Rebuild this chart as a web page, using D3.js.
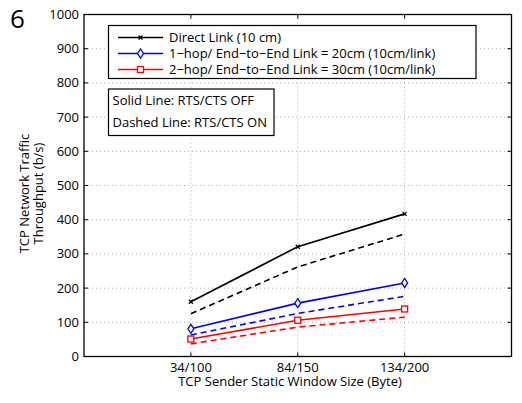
<!DOCTYPE html>
<html>
<head>
<meta charset="utf-8">
<script src="https://cdn.jsdelivr.net/npm/d3@7"></script>
<style>
  body { margin: 0; background: #fff; }
  text { font-family: "Open Sans", "DejaVu Sans", sans-serif; fill: #000; }
</style>
</head>
<body>
<div class="chart"></div>
<script>
const categories = ["34/100", "84/150", "134/200"];
const yTicks = [0, 100, 200, 300, 400, 500, 600, 700, 800, 900, 1000];

const directOff = [160, 321, 417];
const directOn  = [125, 262, 358];
const hop1Off   = [81, 156, 215];
const hop1On    = [63, 126, 176];
const hop2Off   = [51, 106, 139];
const hop2On    = [37, 86, 115];

const legendLabels = [
  "Direct Link (10 cm)",
  "1\u2212hop/ End\u2212to\u2212End Link = 20cm (10cm/link)",
  "2\u2212hop/ End\u2212to\u2212End Link = 30cm (10cm/link)"
];
const noteLabels = ["Solid Line: RTS/CTS OFF", "Dashed Line: RTS/CTS ON"];

const series = [
  { values: directOff, color: "#000", dashed: false, marker: "x" },
  { values: directOn,  color: "#000", dashed: true,  marker: null },
  { values: hop1Off,   color: "#0000ff", dashed: false, marker: "diamond" },
  { values: hop1On,    color: "#0000ff", dashed: true,  marker: null },
  { values: hop2Off,   color: "#ff0000", dashed: false, marker: "square" },
  { values: hop2On,    color: "#ff0000", dashed: true,  marker: null }
];

const W = 522, H = 403;
const pLeft = 84, pRight = 511.5, pTop = 14.5, pBottom = 356.5;

const svg = d3.select(".chart").append("svg")
  .attr("width", W).attr("height", H);

// index scale: ticks at 1,2,3 in a 0..4 domain
const x = d3.scaleLinear().domain([0, 4]).range([pLeft, pRight]);
const y = d3.scaleLinear().domain([0, 1000]).range([pBottom, pTop]);

// grid
svg.append("g").selectAll("line").data(yTicks.slice(1, -1)).enter()
  .append("line")
  .attr("x1", pLeft).attr("x2", pRight)
  .attr("y1", d => y(d)).attr("y2", d => y(d))
  .attr("stroke", "#999").attr("stroke-width", 0.8)
  .attr("stroke-dasharray", "1,3");
svg.append("g").selectAll("line").data(categories).enter()
  .append("line")
  .attr("x1", (d, i) => x(i + 1)).attr("x2", (d, i) => x(i + 1))
  .attr("y1", pTop).attr("y2", pBottom)
  .attr("stroke", "#999").attr("stroke-width", 0.8)
  .attr("stroke-dasharray", "1,3");

// inner ticks on all sides
const tk = 4;
const ticks = svg.append("g").attr("stroke", "#000").attr("stroke-width", 1);
yTicks.forEach(v => {
  ticks.append("line").attr("x1", pLeft).attr("x2", pLeft + tk).attr("y1", y(v)).attr("y2", y(v));
  ticks.append("line").attr("x1", pRight).attr("x2", pRight - tk).attr("y1", y(v)).attr("y2", y(v));
});
categories.forEach((c, i) => {
  ticks.append("line").attr("x1", x(i + 1)).attr("x2", x(i + 1)).attr("y1", pBottom).attr("y2", pBottom - tk);
  ticks.append("line").attr("x1", x(i + 1)).attr("x2", x(i + 1)).attr("y1", pTop).attr("y2", pTop + tk);
});

// tick labels
svg.append("g").selectAll("text").data(yTicks).enter()
  .append("text")
  .attr("x", pLeft - 5).attr("y", d => y(d))
  .attr("dy", "0.35em")
  .attr("text-anchor", "end")
  .style("font-size", "13px")
  .text(d => d);
svg.append("g").selectAll("text").data(categories).enter()
  .append("text")
  .attr("x", (d, i) => x(i + 1)).attr("y", pBottom + 15)
  .attr("text-anchor", "middle")
  .style("font-size", "13px")
  .text(d => d);

// axis titles
svg.append("text")
  .attr("x", 290).attr("y", 386)
  .attr("text-anchor", "middle")
  .style("font-size", "13px")
  .text("TCP Sender Static Window Size (Byte)");
const yl = svg.append("text")
  .attr("transform", `translate(29, ${(pTop + pBottom) / 2 + 8}) rotate(-90)`)
  .attr("text-anchor", "middle")
  .style("font-size", "13px");
yl.append("tspan").attr("x", 0).attr("dy", 0).text("TCP Network Traffic");
yl.append("tspan").attr("x", 0).attr("dy", 14).text("Throughput (b/s)");

svg.append("text")
  .attr("x", 10).attr("y", 28)
  .style("font-size", "26px")
  .text("6");

// lines
const line = d3.line().x((d, i) => x(i + 1)).y(d => y(d));
series.forEach(s => {
  svg.append("path")
    .datum(s.values)
    .attr("d", line)
    .attr("fill", "none")
    .attr("stroke", s.color)
    .attr("stroke-width", 1.6)
    .attr("stroke-dasharray", s.dashed ? "6,4" : null);
});

function drawMarker(g, type, cx, cy, color) {
  if (type === "x") {
    g.append("path")
      .attr("d", `M${cx - 2},${cy - 2}L${cx + 2},${cy + 2}M${cx - 2},${cy + 2}L${cx + 2},${cy - 2}`)
      .attr("stroke", color).attr("stroke-width", 1.3);
  } else if (type === "diamond") {
    g.append("path")
      .attr("d", `M${cx},${cy - 4.5}L${cx + 3},${cy}L${cx},${cy + 4.5}L${cx - 3},${cy}Z`)
      .attr("fill", "#fff").attr("stroke", color).attr("stroke-width", 1.3);
  } else if (type === "square") {
    g.append("rect")
      .attr("x", cx - 3).attr("y", cy - 3).attr("width", 6).attr("height", 6)
      .attr("fill", "#fff").attr("stroke", color).attr("stroke-width", 1.3);
  }
}

series.filter(s => s.marker).forEach(s => {
  const g = svg.append("g");
  s.values.forEach((v, i) => drawMarker(g, s.marker, x(i + 1), y(v), s.color));
});

// frame
svg.append("rect")
  .attr("x", pLeft).attr("y", pTop)
  .attr("width", pRight - pLeft).attr("height", pBottom - pTop)
  .attr("fill", "none").attr("stroke", "#000").attr("stroke-width", 1.3);

// legend
const lg = svg.append("g");
lg.append("rect")
  .attr("x", 108.5).attr("y", 25.5).attr("width", 367.5).attr("height", 53)
  .attr("fill", "#fff").attr("stroke", "#000").attr("stroke-width", 1.2);
const legendSeries = [series[0], series[2], series[4]];
legendLabels.forEach((lab, i) => {
  const ly = 37.5 + i * 16;
  lg.append("line")
    .attr("x1", 118).attr("x2", 163).attr("y1", ly).attr("y2", ly)
    .attr("stroke", legendSeries[i].color).attr("stroke-width", 1.6);
  drawMarker(lg, legendSeries[i].marker, 140.5, ly, legendSeries[i].color);
  lg.append("text")
    .attr("x", 169).attr("y", ly).attr("dy", "0.35em")
    .style("font-size", "13px")
    .text(lab);
});

const ng = svg.append("g");
ng.append("rect")
  .attr("x", 108.5).attr("y", 89).attr("width", 165.5).attr("height", 46.5)
  .attr("fill", "#fff").attr("stroke", "#000").attr("stroke-width", 1.2);
noteLabels.forEach((lab, i) => {
  ng.append("text")
    .attr("x", 112.5).attr("y", 100.5 + i * 21.5).attr("dy", "0.35em")
    .style("font-size", "13px")
    .text(lab);
});
</script>
</body>
</html>
